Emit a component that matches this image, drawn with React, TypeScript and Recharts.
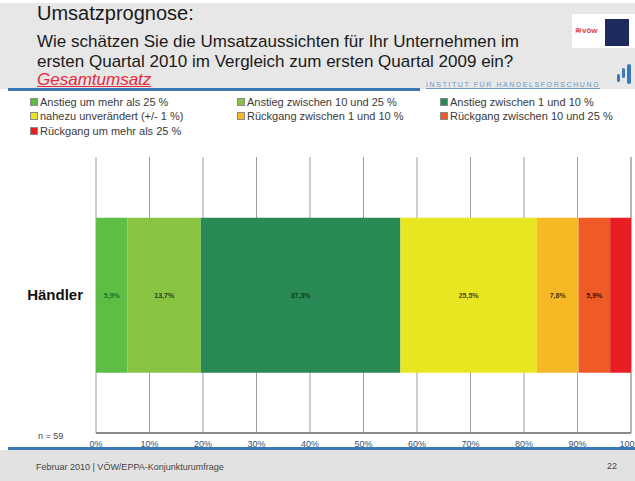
import React from 'react';
import { BarChart, Bar, XAxis, YAxis, CartesianGrid, LabelList } from 'recharts';

const categories = ['Händler'];
const seriesNames = [
  'Anstieg um mehr als 25 %',
  'Anstieg zwischen 10 und 25 %',
  'Anstieg zwischen 1 und 10 %',
  'nahezu unverändert (+/- 1 %)',
  'Rückgang zwischen 1 und 10 %',
  'Rückgang zwischen 10 und 25 %',
  'Rückgang um mehr als 25 %',
];
const seriesKeys = ['a25', 'a10', 'a1', 'n0', 'r1', 'r10', 'r25'];
const haendlerValues = [5.9, 13.7, 37.3, 25.5, 7.8, 5.9, 3.9];
const seriesColors = ['#5dbd45', '#88c441', '#2a8a55', '#e8e521', '#f6b925', '#ee5b26', '#e91e25'];
const labelColors = ['#0c7a2c', '#2c3d14', '#103a20', '#4a4a10', '#4a3008', '#3a1408', '#3a0808'];
const showLabel = [true, true, true, true, true, true, false];
const xTicks = [0, 10, 20, 30, 40, 50, 60, 70, 80, 90, 100];
const sampleSize = 'n = 59';

const data = categories.map((name) => {
  const row: Record<string, string | number> = { name };
  seriesKeys.forEach((k, i) => {
    row[k] = haendlerValues[i];
  });
  return row;
});

const fmt = (v: any) => Number(v).toFixed(1).replace('.', ',') + '%';

const FONT = '"Liberation Sans", Arial, sans-serif';

export default function App() {
  return (
    <div
      style={{
        position: 'absolute',
        left: 0,
        top: 0,
        width: 635,
        height: 481,
        overflow: 'hidden',
        background: '#ffffff',
        fontFamily: FONT,
      }}
    >
      {/* header band */}
      <div style={{ position: 'absolute', left: 0, top: 3, width: 635, height: 86, background: '#e7e7e7' }} />
      <div style={{ position: 'absolute', left: 37, top: 2, fontSize: 20, color: '#1a1a1a', whiteSpace: 'nowrap' }}>
        Umsatzprognose:
      </div>
      <div style={{ position: 'absolute', left: 37, top: 32, fontSize: 17, lineHeight: '20px', color: '#1a1a1a', whiteSpace: 'nowrap' }}>
        Wie schätzen Sie die Umsatzaussichten für Ihr Unternehmen im
        <br />
        ersten Quartal 2010 im Vergleich zum ersten Quartal 2009 ein?
      </div>
      <div
        style={{
          position: 'absolute',
          left: 37,
          top: 70,
          fontSize: 17,
          fontStyle: 'italic',
          color: '#e8283a',
          textDecoration: 'underline',
          whiteSpace: 'nowrap',
        }}
      >
        Gesamtumsatz
      </div>
      <div style={{ position: 'absolute', left: 8, top: 88, width: 412, height: 3, background: '#3b78b6' }} />
      <div
        style={{
          position: 'absolute',
          left: 426,
          top: 81,
          fontSize: 7,
          letterSpacing: 1.6,
          color: '#6a98c8',
          whiteSpace: 'nowrap',
          textDecoration: 'underline',
        }}
      >
        INSTITUT FÜR HANDELSFORSCHUNG
      </div>
      {/* logos */}
      <div style={{ position: 'absolute', left: 572, top: 14, width: 63, height: 34, background: '#ffffff' }} />
      <div style={{ position: 'absolute', left: 575, top: 26, fontSize: 8, fontWeight: 700, color: '#e23a4a' }}>
        ≋vöw
      </div>
      <div style={{ position: 'absolute', left: 605, top: 19, width: 24, height: 27, background: '#1e2a5c' }} />
      <div style={{ position: 'absolute', left: 622, top: 68, width: 3, height: 10, background: '#3b78b6', borderRadius: 2 }} />
      <div style={{ position: 'absolute', left: 627, top: 64, width: 4, height: 20, background: '#3b78b6', borderRadius: 2 }} />
      <div style={{ position: 'absolute', left: 617, top: 74, width: 3, height: 8, background: '#3b78b6', borderRadius: 2 }} />

      {/* legend */}
      {seriesNames.map((n, i) => {
        const col = i % 3;
        const row = Math.floor(i / 3);
        const left = [30, 237, 440][col];
        const top = 95 + row * 14.5;
        return (
          <div
            key={n}
            style={{
              position: 'absolute',
              left,
              top,
              height: 13,
              display: 'flex',
              alignItems: 'center',
              whiteSpace: 'nowrap',
              fontSize: 11,
              color: '#3a3a3a',
            }}
          >
            <span
              style={{
                display: 'inline-block',
                width: 6,
                height: 6,
                background: seriesColors[i],
                border: '1px solid #8a8a8a',
                marginRight: 2,
              }}
            />
            {n}
          </div>
        );
      })}

      {/* footer */}
      <div style={{ position: 'absolute', left: 8, top: 447, width: 627, height: 3, background: '#3b78b6' }} />
      <div style={{ position: 'absolute', left: 0, top: 450, width: 635, height: 31, background: '#e2e2e2' }} />
      <div style={{ position: 'absolute', left: 36, top: 462, fontSize: 9, color: '#444', whiteSpace: 'nowrap' }}>
        Februar 2010 | VÖW/EPPA-Konjunkturumfrage
      </div>
      <div style={{ position: 'absolute', left: 607, top: 461, fontSize: 9, color: '#444' }}>22</div>
      <div style={{ position: 'absolute', left: 38, top: 431, fontSize: 9, color: '#444', whiteSpace: 'nowrap' }}>
        {sampleSize}
      </div>

      {/* chart */}
      <div style={{ position: 'absolute', left: 0, top: 0 }}>
        <BarChart
          width={635}
          height={481}
          data={data}
          layout="vertical"
          margin={{ top: 157, right: 4, bottom: 0, left: 0 }}
          barCategoryGap="22%"
        >
          <CartesianGrid horizontal={false} vertical={true} stroke="#9e9e9e" strokeWidth={1} />
          <XAxis
            type="number"
            domain={[0, 100]}
            ticks={xTicks}
            tickFormatter={(v: number) => v + '%'}
            height={48}
            tickSize={0}
            tickMargin={8}
            axisLine={{ stroke: '#8a8a8a', strokeWidth: 2 }}
            tick={{ fontSize: 9, fill: '#34506e', fontFamily: FONT }}
            interval={0}
          />
          <XAxis
            xAxisId="top"
            orientation="top"
            type="number"
            domain={[0, 100]}
            height={0}
            tick={false}
            tickLine={false}
            axisLine={{ stroke: '#9a9a9a', strokeWidth: 1 }}
          />
          <YAxis
            type="category"
            dataKey="name"
            width={96}
            tickSize={0}
            tickMargin={13}
            axisLine={false}
            tickLine={false}
            tick={{ fontSize: 15, fontWeight: 700, fill: '#111', fontFamily: FONT }}
          />
          {seriesKeys.map((k, i) => (
            <Bar key={k} dataKey={k} name={seriesNames[i]} stackId="s" fill={seriesColors[i]} isAnimationActive={false}>
              {showLabel[i] && (
                <LabelList
                  dataKey={k}
                  position="center"
                  formatter={fmt}
                  style={{ fontSize: 7, fontWeight: 700, fill: labelColors[i], fontFamily: FONT }}
                />
              )}
            </Bar>
          ))}
        </BarChart>
      </div>
    </div>
  );
}
